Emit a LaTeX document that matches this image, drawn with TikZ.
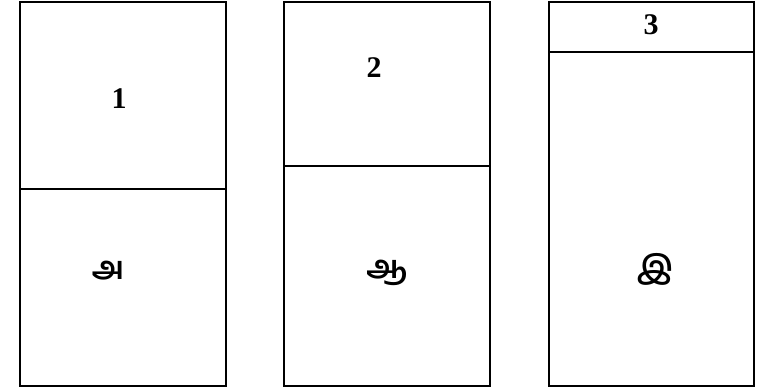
\documentclass[tikz,border=0pt]{standalone}
\usepackage{fontspec}
\setmainfont{Liberation Serif}
\newfontfamily\tamilfont[Script=Tamil]{Hind Madurai}
\usetikzlibrary{positioning}
\begin{document}
\begin{tikzpicture}[x=1pt,y=-1pt,line cap=rect,line join=miter]
\path[fill=white] (0,0) rectangle (765,391);
\tikzset{panel/.style={draw=black,line width=2.2pt},numlabel/.style={font=\fontsize{30}{32}\selectfont\bfseries},tamlabel/.style={font=\fontsize{32}{34}\selectfont\tamilfont\bfseries}}
% panel 1
\draw[panel] (20,2) rectangle (226,386); \draw[panel] (20,189) -- (226,189);
\node[numlabel] (numA) at (119,99) {1}; \node[tamlabel] (letA) at (108,271) {அ};
% panel 2
\draw[panel] (284,2) rectangle (490,386); \draw[panel] (284,166) -- (490,166);
\node[numlabel] (numB) at (374,68) {2}; \node[tamlabel] (letB) at (387,273) {ஆ};
% panel 3
\draw[panel] (549,2) rectangle (754,386); \draw[panel] (549,52) -- (754,52);
\node[numlabel] (numC) at (651,25) {3}; \node[tamlabel] (letC) at (655,269) {இ};
\end{tikzpicture}
\end{document}
